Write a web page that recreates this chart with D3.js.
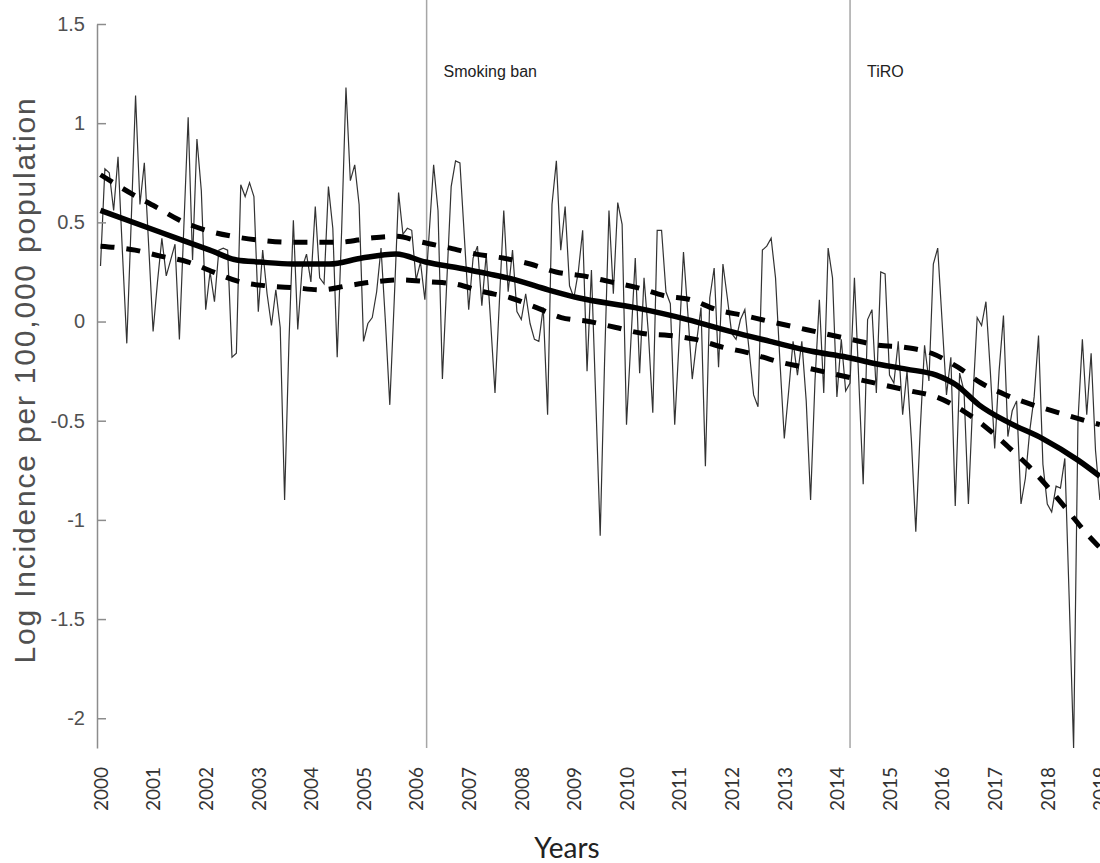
<!DOCTYPE html>
<html>
<head>
<meta charset="utf-8">
<script src="https://cdn.jsdelivr.net/npm/d3@7"></script>
<style>
  body { margin: 0; background: #fff; }
  svg { display: block; }
</style>
</head>
<body>
<svg id="chart" width="1100" height="863"></svg>
<script>
// monthly log incidence, Jan 2000 onwards
const incidence = [
  0.28, 0.77, 0.75, 0.56, 0.83, 0.35, -0.11, 0.50, 1.14, 0.59, 0.80, 0.38,
  -0.05, 0.20, 0.42, 0.23, 0.31, 0.39, -0.09, 0.47, 1.03, 0.31, 0.92, 0.66,
  0.06, 0.25, 0.10, 0.36, 0.37, 0.36, -0.18, -0.16, 0.69, 0.63, 0.70, 0.63,
  0.05, 0.36, 0.14, -0.02, 0.16, -0.03, -0.90, -0.10, 0.51, -0.04, 0.27, 0.34,
  0.20, 0.58, 0.22, 0.19, 0.68, 0.47, -0.18, 0.45, 1.18, 0.71, 0.79, 0.59,
  -0.10, -0.01, 0.02, 0.15, 0.37, 0.00, -0.42, 0.10, 0.65, 0.44, 0.47, 0.46,
  0.21, 0.30, 0.11, 0.45, 0.79, 0.56, -0.29, 0.20, 0.68, 0.81, 0.80, 0.43,
  0.06, 0.32, 0.38, 0.08, 0.34, 0.00, -0.36, 0.10, 0.56, 0.15, 0.36, 0.05,
  0.01, 0.14, -0.01, -0.09, -0.10, 0.07, -0.47, 0.59, 0.81, 0.36, 0.58, 0.18,
  0.12, 0.25, 0.46, -0.25, 0.26, -0.40, -1.08, -0.20, 0.56, 0.14, 0.60, 0.49,
  -0.52, -0.10, 0.32, -0.26, 0.22, -0.06, -0.46, 0.46, 0.46, 0.15, 0.09, -0.52,
  -0.10, 0.35, 0.04, -0.29, -0.10, 0.07, -0.73, 0.12, 0.27, -0.23, 0.29, 0.12,
  -0.06, -0.09, 0.01, 0.06, -0.15, -0.37, -0.43, 0.36, 0.38, 0.42, 0.22, -0.20,
  -0.59, -0.35, -0.10, -0.27, -0.10, -0.40, -0.90, -0.30, 0.11, -0.36, 0.37, 0.22,
  -0.38, -0.09, -0.35, -0.31, 0.22, -0.30, -0.82, 0.01, 0.06, -0.36, 0.25, 0.24,
  -0.27, -0.31, -0.10, -0.47, -0.25, -0.60, -1.06, -0.55, -0.12, -0.30, 0.29, 0.37,
  0.00, -0.37, -0.18, -0.93, -0.26, -0.35, -0.92, -0.40, 0.02, -0.02, 0.10, -0.25,
  -0.64, -0.25, 0.03, -0.58, -0.45, -0.40, -0.92, -0.79, -0.55, -0.38, -0.07, -0.72,
  -0.92, -0.96, -0.83, -0.84, -0.69, -1.40, -2.15, -0.50, -0.09, -0.47, -0.16, -0.65,
  -0.90
];

// fitted trend and confidence band
const trendYears = [2000.0, 2001.14, 2002.08, 2002.59, 2003.03, 2003.65, 2004.35, 2004.97,
  2005.62, 2006.18, 2006.81, 2007.38, 2007.89, 2008.51, 2009.08, 2010.16, 2011.16,
  2011.97, 2012.73, 2013.52, 2014.19, 2014.69, 2015.32, 2015.89, 2016.27, 2016.70,
  2017.27, 2017.91, 2018.59, 2019.0];
const trendValues = [0.56, 0.45, 0.36, 0.31, 0.30, 0.29, 0.29, 0.32, 0.34, 0.30, 0.27,
  0.24, 0.21, 0.16, 0.12, 0.07, 0.01, -0.05, -0.10, -0.15, -0.18, -0.21, -0.24, -0.27,
  -0.32, -0.42, -0.51, -0.59, -0.70, -0.78];

const upperYears = [2000.0, 2000.62, 2001.04, 2001.51, 2002.01, 2002.50, 2003.03, 2003.55,
  2004.54, 2005.11, 2005.62, 2006.11, 2006.65, 2007.14, 2007.65, 2008.17, 2008.66,
  2009.18, 2009.70, 2010.22, 2010.72, 2011.22, 2011.71, 2012.24, 2012.73, 2013.24,
  2013.75, 2014.27, 2014.79, 2015.28, 2015.80, 2016.30, 2016.74, 2017.21, 2017.72,
  2018.22, 2018.73, 2019.0];
const upperValues = [0.74, 0.64, 0.58, 0.51, 0.46, 0.43, 0.41, 0.40, 0.40, 0.42, 0.43,
  0.40, 0.37, 0.34, 0.32, 0.29, 0.25, 0.23, 0.20, 0.17, 0.13, 0.11, 0.06, 0.03, 0.00,
  -0.03, -0.06, -0.09, -0.12, -0.13, -0.16, -0.23, -0.31, -0.37, -0.42, -0.46, -0.50,
  -0.52];

const lowerYears = [2000.0, 2000.66, 2001.14, 2001.67, 2002.14, 2002.65, 2003.16, 2003.69,
  2004.20, 2004.69, 2005.20, 2005.71, 2006.24, 2006.72, 2007.28, 2007.79, 2008.29,
  2008.76, 2009.29, 2009.80, 2010.31, 2010.81, 2011.31, 2011.84, 2012.35, 2012.85,
  2013.36, 2013.87, 2014.38, 2014.89, 2015.40, 2015.89, 2016.40, 2016.82, 2017.25,
  2017.65, 2018.03, 2018.41, 2018.75, 2019.0];
const lowerValues = [0.38, 0.36, 0.33, 0.30, 0.25, 0.20, 0.18, 0.17, 0.16, 0.18, 0.20,
  0.21, 0.20, 0.19, 0.15, 0.12, 0.07, 0.02, 0.00, -0.03, -0.06, -0.07, -0.09, -0.13,
  -0.16, -0.20, -0.23, -0.26, -0.29, -0.32, -0.35, -0.38, -0.45, -0.53, -0.63, -0.73,
  -0.84, -0.96, -1.07, -1.14];

const yearTicks = [2000, 2001, 2002, 2003, 2004, 2005, 2006, 2007, 2008, 2009,
  2010, 2011, 2012, 2013, 2014, 2015, 2016, 2017, 2018, 2019];
const yTicks = [1.5, 1, 0.5, 0, -0.5, -1, -1.5, -2];

const eventYears = [2006.2, 2014.25];
const eventLabels = ["Smoking ban", "TiRO"];

(function drawChart() {
  const svg = d3.select("#chart");
  const plotLeft = 97, plotRight = 1100, plotTop = 24, plotBottom = 748;

  const x = d3.scaleLinear()
    .domain([2000 - 3.5 / 52.6, 2000 + 999.5 / 52.6])
    .range([plotLeft, plotRight]);
  const y = d3.scaleLinear().domain([-2.15, 1.5]).range([plotBottom, plotTop]);

  svg.append("defs").append("clipPath").attr("id", "plot-clip")
    .append("rect").attr("x", plotLeft).attr("y", 0)
    .attr("width", plotRight - plotLeft).attr("height", plotBottom + 2);

  // event markers
  const eventsG = svg.append("g");
  eventsG.selectAll("line")
    .data(eventYears)
    .join("line")
    .attr("x1", (d) => x(d)).attr("x2", (d) => x(d))
    .attr("y1", 0).attr("y2", plotBottom)
    .attr("stroke", "#a6a6a6")
    .attr("stroke-width", 1.5);
  eventsG.selectAll("text")
    .data(eventYears)
    .join("text")
    .attr("x", (d) => x(d) + 17)
    .attr("y", 77)
    .attr("font-family", "Liberation Sans, Arial, sans-serif")
    .attr("font-size", 16)
    .attr("fill", "#222")
    .text((d, i) => eventLabels[i]);

  const plotG = svg.append("g").attr("clip-path", "url(#plot-clip)");

  const monthly = incidence.map((v, i) => ({ t: 2000 + i / 12, v }));
  const line = d3.line().x((d) => x(d.t)).y((d) => y(d.v));
  const smooth = d3.line().curve(d3.curveMonotoneX).x((d) => x(d.t)).y((d) => y(d.v));

  function zip(ts, vs) {
    return ts.map((t, i) => ({ t, v: vs[i] }));
  }

  plotG.append("path")
    .datum(monthly)
    .attr("d", line)
    .attr("fill", "none")
    .attr("stroke", "#333")
    .attr("stroke-width", 1.2);

  plotG.append("path")
    .datum(zip(upperYears, upperValues))
    .attr("d", smooth)
    .attr("fill", "none")
    .attr("stroke", "#000")
    .attr("stroke-width", 5)
    .attr("stroke-dasharray", "14,12");

  plotG.append("path")
    .datum(zip(lowerYears, lowerValues))
    .attr("d", smooth)
    .attr("fill", "none")
    .attr("stroke", "#000")
    .attr("stroke-width", 5)
    .attr("stroke-dasharray", "14,12");

  plotG.append("path")
    .datum(zip(trendYears, trendValues))
    .attr("d", smooth)
    .attr("fill", "none")
    .attr("stroke", "#000")
    .attr("stroke-width", 5.5);

  // y axis, ticks pointing into the plot
  const yAxisG = svg.append("g")
    .attr("transform", `translate(${plotLeft},0)`)
    .call(d3.axisLeft(y).tickValues(yTicks).tickSize(-9).tickSizeOuter(0)
      .tickPadding(12).tickFormat((d) => String(d)));
  yAxisG.select(".domain").attr("stroke", "#8c8c8c").attr("stroke-width", 1.5);
  yAxisG.selectAll(".tick line").attr("stroke", "#8c8c8c").attr("stroke-width", 1.5);
  yAxisG.selectAll(".tick text")
    .attr("font-family", "Liberation Sans, Arial, sans-serif")
    .attr("font-size", 20)
    .attr("fill", "#505050");

  // x axis: rotated year labels only
  const xAxisG = svg.append("g")
    .attr("transform", `translate(0,${plotBottom})`)
    .call(d3.axisBottom(x).tickValues(yearTicks).tickSize(0).tickFormat(d3.format("d")));
  xAxisG.select(".domain").remove();
  xAxisG.selectAll(".tick text")
    .attr("transform", "rotate(-90)")
    .attr("text-anchor", "end")
    .attr("x", -19)
    .attr("y", 0)
    .attr("dy", "0.36em")
    .attr("font-family", "Lato, sans-serif")
    .attr("font-size", 19)
    .attr("fill", "#333");

  svg.append("text")
    .attr("x", 567)
    .attr("y", 858)
    .attr("text-anchor", "middle")
    .attr("font-family", "Lato, sans-serif")
    .attr("font-size", 28)
    .attr("fill", "#222")
    .text("Years");

  svg.append("text")
    .attr("transform", "rotate(-90)")
    .attr("x", -380)
    .attr("y", 35)
    .attr("text-anchor", "middle")
    .attr("font-family", "Liberation Sans, Arial, sans-serif")
    .attr("font-size", 30)
    .attr("letter-spacing", 1.8)
    .attr("fill", "#505050")
    .text("Log Incidence per 100,000 population");
})();
</script>
</body>
</html>
